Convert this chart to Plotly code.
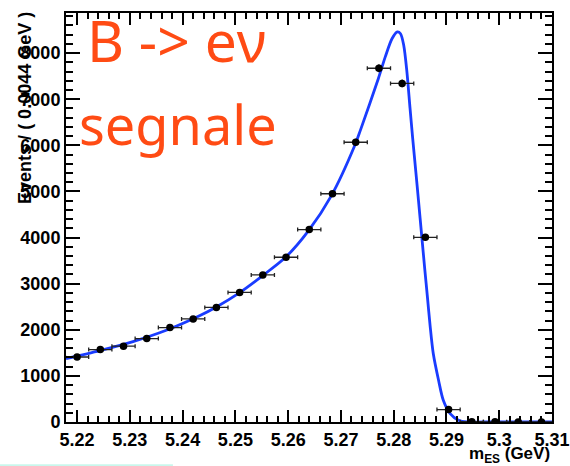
import numpy as np
import plotly.graph_objects as go

# Binned m_ES distribution (bin width 0.0044 GeV)
bin_centers = [5.2200, 5.2244, 5.2288, 5.2332, 5.2376, 5.2420, 5.2464,
               5.2508, 5.2552, 5.2596, 5.2640, 5.2684, 5.2728, 5.2772,
               5.2816, 5.2860, 5.2904, 5.2948, 5.2992, 5.3036, 5.3080]
events = [1410, 1570, 1645, 1810, 2047, 2235, 2485, 2810, 3190, 3573, 4173,
          4950, 6067, 7672, 7343, 4006, 269, 8, 3, 2, 1]
bin_half_width = 0.0022

# Fitted signal shape
fit_x = [5.2179, 5.2243, 5.2306, 5.2369, 5.2432, 5.2464, 5.2506, 5.2550,
         5.2594, 5.2638, 5.2682, 5.2726, 5.2737, 5.2771, 5.2784, 5.2797,
         5.2807, 5.2813, 5.2819, 5.2825, 5.2831, 5.2836, 5.2842, 5.2847,
         5.2853, 5.2859, 5.2864, 5.2869, 5.2875, 5.2885, 5.2894, 5.2907,
         5.2923, 5.2939, 5.2970, 5.3100]
fit_y = [1375, 1550, 1745, 1990, 2305, 2495, 2790, 3160,
         3560, 4140, 4910, 5990, 6330, 7450, 7918, 8317,
         8460, 8420, 8170, 7600, 6800, 6150, 5420, 4800,
         4050, 3300, 2700, 2090, 1484, 905, 470, 182,
         37, 0, 0, 0]

x_ticks = [5.22, 5.23, 5.24, 5.25, 5.26, 5.27, 5.28, 5.29, 5.30, 5.31]
x_ticklabels = ["5.22", "5.23", "5.24", "5.25", "5.26", "5.27", "5.28",
                "5.29", "5.3", "5.31"]
y_ticks = [0, 1000, 2000, 3000, 4000, 5000, 6000, 7000, 8000]
y_ticklabels = ["0", "1000", "2000", "3000", "4000", "5000", "6000",
                "7000", "8000"]

fig = go.Figure()

fig.add_trace(go.Scatter(
    x=fit_x, y=fit_y, mode="lines",
    line=dict(color="#1a3cff", width=2.8, shape="spline", smoothing=0.8),
    hoverinfo="skip", showlegend=False,
))

fig.add_trace(go.Scatter(
    x=bin_centers, y=events, mode="markers",
    marker=dict(color="black", size=7.5, symbol="circle"),
    error_x=dict(type="constant", value=bin_half_width, color="#222222",
                 thickness=1.3, width=2),
    error_y=dict(type="data", array=list(np.sqrt(events)), color="#222222",
                 thickness=1.3, width=0),
    showlegend=False,
))

axis_font = dict(family="Liberation Sans", size=18, color="black", weight=700)

fig.update_xaxes(
    range=[5.2179, 5.31], tickmode="array", tickvals=x_ticks,
    ticktext=x_ticklabels, tickfont=axis_font, automargin=False,
    ticks="inside", ticklen=12, tickwidth=1.5, tickcolor="black",
    minor=dict(dtick=0.002, tick0=5.22, ticks="inside", ticklen=6,
               tickwidth=1.5, tickcolor="black"),
    showline=True, linewidth=2, linecolor="black", mirror="ticks",
    showgrid=False, zeroline=False,
)
fig.update_yaxes(
    range=[0, 8870], tickmode="array", tickvals=y_ticks,
    ticktext=y_ticklabels, tickfont=axis_font, automargin=False,
    ticks="inside", ticklen=14, tickwidth=1.5, tickcolor="black",
    minor=dict(dtick=200, tick0=0, ticks="inside", ticklen=7,
               tickwidth=1.5, tickcolor="black"),
    showline=True, linewidth=2, linecolor="black", mirror="ticks",
    showgrid=False, zeroline=False,
)

annotations = [
    dict(text="Events / ( 0.0044 GeV )", textangle=-90,
         xref="paper", yref="paper", x=-0.084, y=1.008,
         xanchor="center", yanchor="top", showarrow=False,
         font=dict(family="Liberation Sans", size=18, color="black",
                   weight=700)),
    dict(text="m<sub>ES</sub> (GeV)",
         xref="paper", yref="paper", x=1.0, y=-0.08,
         xanchor="right", yanchor="middle", showarrow=False,
         font=dict(family="Liberation Sans", size=17, color="black",
                   weight=700)),
    dict(text="B -> eν",
         xref="paper", yref="paper", x=0.04, y=1.035,
         xanchor="left", yanchor="top", showarrow=False,
         font=dict(family="Noto Sans", size=57, color="#ff4b14")),
    dict(text="segnale",
         xref="paper", yref="paper", x=0.023, y=0.825,
         xanchor="left", yanchor="top", showarrow=False,
         font=dict(family="Noto Sans", size=54, color="#ff4b14")),
]

fig.update_layout(
    width=570, height=466,
    margin=dict(l=66, r=18, t=13, b=44),
    paper_bgcolor="white", plot_bgcolor="white",
    annotations=annotations,
    shapes=[dict(type="line", xref="paper", yref="paper",
                 x0=-0.136, x1=0.22, y0=-0.106, y1=-0.106,
                 line=dict(color="#c9f7ec", width=2))],
)

fig.write_html("out.html")
